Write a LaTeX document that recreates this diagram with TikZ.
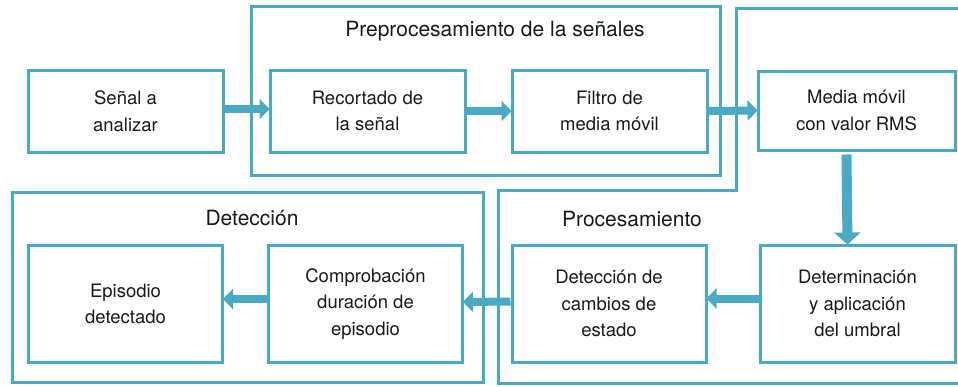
\documentclass[tikz,border=0pt]{standalone}
\usepackage{fontspec}
\setmainfont{TeX Gyre Heros}
\usetikzlibrary{arrows.meta}
\definecolor{bl}{RGB}{74,170,198}
\tikzset{
  stepbox/.style={draw=bl, line width=3pt, align=center, inner sep=0pt,
    font=\fontsize{18.5}{26.5}\selectfont, text=black!90},
  topbox/.style={stepbox, minimum width=195pt, minimum height=82pt},
  botbox/.style={stepbox, minimum width=194pt, minimum height=117pt},
  group/.style={draw=bl, line width=3pt},
  gtitle/.style={font=\fontsize{21}{25}\selectfont, text=black!90},
  barrow/.style={draw=bl, line width=8pt, -{Triangle[length=10pt, width=20pt]}, shorten >=-1pt},
}
\begin{document}
\begin{tikzpicture}[x=1pt, y=-1pt]
\useasboundingbox (0,0) rectangle (958,386);
% groups
\draw[group] (251,6) rectangle (720,175);
\draw[group] (12,192) rectangle (483,382);
\draw[group] (962,8) -- (736,8) -- (736,190) -- (498,190) -- (498,383) -- (962,383);
\node[gtitle] (tpre) at (495,31) {Preprocesamiento de la señales};
\node[gtitle] (tdet) at (252,218) {Detección};
\node[gtitle] (tpro) at (632,219) {Procesamiento};
% top row
\node[topbox] (sen) at (125.5,111) {Señal a\\analizar};
\node[topbox] (rec) at (367.5,111) {Recortado de\\la señal};
\node[topbox] (fil) at (609.5,111) {Filtro de\\media móvil};
\node[topbox, minimum width=197pt, minimum height=79pt] (med) at (856.5,110.5) {Media móvil\\con valor RMS};
% bottom row
\node[botbox] (epi) at (125.5,304) {Episodio\\detectado};
\node[botbox] (com) at (365.5,304) {Comprobación\\duración de\\episodio};
\node[botbox] (cam) at (609,303.5) {Detección de\\cambios de\\estado};
\node[botbox, minimum width=195pt] (umb) at (857.5,303.5) {Determinación\\y aplicación\\del umbral};
% arrows
\draw[barrow] ([yshift=2pt]sen.east) -- ([yshift=2pt]rec.west);
\draw[barrow] (rec.east) -- (fil.west);
\draw[barrow] (fil.east) -- (med.west);
\draw[barrow, line width=10pt, -{Triangle[length=12pt, width=26pt]}] ([xshift=-10pt,yshift=-3pt]med.south) -- ([xshift=-10pt]umb.north);
\draw[barrow] ([yshift=5pt]umb.west) -- ([yshift=5pt]cam.east);
\draw[barrow] ([yshift=2pt]cam.west) -- ([yshift=2pt]com.east);
\draw[barrow] ([yshift=5pt]com.west) -- ([yshift=5pt]epi.east);
\end{tikzpicture}
\end{document}
